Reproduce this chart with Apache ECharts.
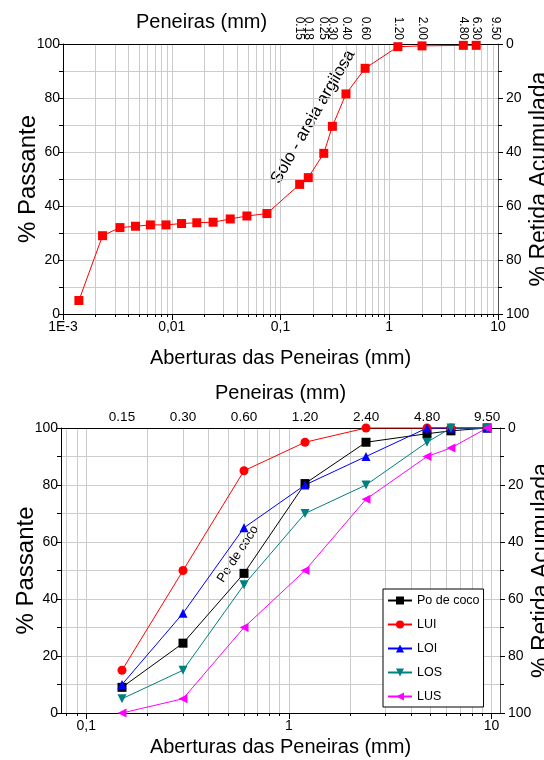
<!DOCTYPE html>
<html>
<head>
<meta charset="utf-8">
<script src="https://cdn.jsdelivr.net/npm/echarts@6/dist/echarts.min.js"></script>
<style>
html, body { margin: 0; padding: 0; background: #fff; }
#chart { width: 544px; height: 760px; }
</style>
</head>
<body>
<div id="chart"></div>
<script>
// grafico de cima: solo - areia argilosa
var soloAbertura = [0.0014, 0.00231, 0.00334, 0.00464, 0.00636, 0.00886, 0.0123, 0.0170, 0.0240, 0.0345, 0.0491, 0.075,
  0.15, 0.18, 0.25, 0.30, 0.40, 0.60, 1.20, 2.00, 4.80, 6.30];
var soloPassante = [5, 29, 32, 32.5, 33, 33, 33.5, 33.8, 34, 35.2, 36.3, 37.2,
  48, 50.5, 59.5, 69.5, 81.5, 91, 99, 99.3, 99.5, 99.5];
var peneirasSolo = [0.15, 0.18, 0.25, 0.30, 0.40, 0.60, 1.20, 2.00, 4.80, 6.30, 9.50];
var decadasSolo = [0.001, 0.01, 0.1, 1, 10];

// grafico de baixo: po de coco e limites
var peneiras = [0.15, 0.30, 0.60, 1.20, 2.40, 4.80, 6.30, 9.50];
var peneirasTopo = [0.15, 0.30, 0.60, 1.20, 2.40, 4.80, 9.50];
var decadasCoco = [0.1, 1, 10];
var poDeCoco = [9, 24.5, 49, 80.5, 95, 98, 99, 100];
var lui = [15, 50, 85, 95, 100, 100, 100, 100];
var loi = [10, 35, 65, 80, 90, 100, 100, 100];
var los = [5, 15, 45, 70, 80, 95, 100, 100];
var lus = [0, 5, 30, 50, 75, 90, 93, 100];

var multiplos = [2, 3, 4, 5, 6, 7, 8, 9];
var FONT = "'Liberation Sans', Arial, sans-serif";

function grade(decadas, min, max) {
  // linhas de grade do eixo log: 1..9 x cada decada
  var v = [];
  decadas.forEach(function (d) {
    [1].concat(multiplos).forEach(function (m) {
      var x = +(d * m / 10).toPrecision(3);
      if (x >= min && x <= max) v.push(x);
    });
  });
  decadas.forEach(function (d) { if (v.indexOf(d) < 0) v.push(d); });
  return v;
}

function rotulo(v) {
  if (v === 0.001) return '1E-3';
  return String(v).replace('.', ',');
}

function pares(xs, ys) {
  return xs.map(function (x, i) { return [x, ys[i]]; });
}

function eixosX(grid, min, max, decadas, topo, rotTopo, fonteTopo, nomeTopo, gapNome) {
  // rotulos vazios nas pontas: o echarts esconde o 1o/ultimo rotulo quando encosta no vizinho
  var topoValores = [min].concat(topo, [max]);
  return [
    { // eixo principal de baixo
      type: 'log', gridIndex: grid, min: min, max: max, position: 'bottom',
      axisLine: { show: true, onZero: false, lineStyle: { color: '#000', width: 1 } },
      axisTick: { show: true, customValues: decadas, length: 6, lineStyle: { color: '#000' } },
      axisLabel: {
        customValues: decadas, formatter: rotulo, color: '#000', fontSize: 14, fontFamily: FONT,
        margin: 6, hideOverlap: false, showMinLabel: true, showMaxLabel: true
      },
      splitLine: { show: false },
      name: 'Aberturas das Peneiras (mm)', nameLocation: 'middle', nameGap: gapNome, nameMoveOverlap: false,
      nameTextStyle: { color: '#000', fontSize: 20, fontFamily: FONT }
    },
    { // grade secundaria
      type: 'log', gridIndex: grid, min: min, max: max, position: 'bottom',
      axisLine: { show: false },
      axisTick: { show: true, customValues: grade(decadas, min, max), length: 3, lineStyle: { color: '#000' } },
      axisLabel: { show: false },
      splitLine: { show: true, lineStyle: { color: '#cccccc', width: 1 } }
    },
    { // peneiras no topo
      type: 'log', gridIndex: grid, min: min, max: max, position: 'top',
      axisLine: { show: true, onZero: false, lineStyle: { color: '#000', width: 1 } },
      axisTick: { show: false },
      axisLabel: {
        customValues: topoValores, rotate: rotTopo, margin: 4,
        hideOverlap: false, showMinLabel: false, showMaxLabel: false,
        formatter: function (v) { return topo.indexOf(v) >= 0 ? v.toFixed(2) : ''; },
        color: '#000', fontSize: fonteTopo, fontFamily: FONT
      },
      splitLine: { show: false },
      name: nomeTopo, nameLocation: 'middle', nameGap: 25, nameMoveOverlap: false,
      nameTextStyle: { color: '#000', fontSize: 20, fontFamily: FONT }
    }
  ];
}

function eixosY(grid) {
  return [
    {
      type: 'value', gridIndex: grid, min: 0, max: 100, interval: 20, position: 'left',
      axisLine: { show: true, lineStyle: { color: '#000' } },
      axisTick: { show: true, length: 5, lineStyle: { color: '#000' } },
      minorTick: { show: true, splitNumber: 2, length: 4, lineStyle: { color: '#000' } },
      axisLabel: { color: '#000', fontSize: 14, fontFamily: FONT, margin: 3 },
      splitLine: { show: true, lineStyle: { color: '#cccccc' } },
      minorSplitLine: { show: true, lineStyle: { color: '#cccccc' } },
      name: '% Passante', nameLocation: 'middle', nameGap: 23, nameRotate: 90, nameMoveOverlap: false,
      nameTextStyle: { color: '#000', fontSize: 24, fontFamily: FONT }
    },
    {
      type: 'value', gridIndex: grid, min: 0, max: 100, interval: 20, position: 'right', inverse: true,
      axisLine: { show: true, lineStyle: { color: '#555' } },
      axisTick: { show: true, length: 5, lineStyle: { color: '#000' } },
      minorTick: { show: true, splitNumber: 2, length: 4, lineStyle: { color: '#000' } },
      axisLabel: { color: '#000', fontSize: 14, fontFamily: FONT, margin: 8 },
      splitLine: { show: false },
      name: '% Retida Acumulada', nameLocation: 'middle', nameGap: 30, nameRotate: 90, nameMoveOverlap: false,
      nameTextStyle: { color: '#000', fontSize: 23, fontFamily: FONT }
    }
  ];
}

function serie(nome, ys, cor, simbolo, rot) {
  return {
    name: nome, type: 'line', xAxisIndex: 3, yAxisIndex: 2,
    data: pares(peneiras, ys), symbol: simbolo, symbolSize: 9, symbolRotate: rot || 0,
    itemStyle: { color: cor }, lineStyle: { color: cor, width: 1 }, clip: false, z: 3
  };
}

var myChart = echarts.init(document.getElementById('chart'), null, { renderer: 'canvas' });
myChart.setOption({
  animation: false,
  backgroundColor: '#fff',
  textStyle: { fontFamily: FONT },
  title: [{
    text: 'Peneiras (mm)', left: 136, top: 12, padding: 0,
    textStyle: { color: '#000', fontSize: 20, fontWeight: 'normal', fontFamily: FONT }
  }],
  grid: [
    { left: 63, top: 44, width: 435, height: 270, containLabel: false, outerBoundsMode: 'none' },
    { left: 61, top: 428, width: 439, height: 285, containLabel: false, outerBoundsMode: 'none' }
  ],
  xAxis: eixosX(0, 0.001, 10, decadasSolo, peneirasSolo, 90, 12, '', 34)
    .concat(eixosX(1, 0.075, 11, decadasCoco, peneirasTopo, 0, 13.5, 'Peneiras (mm)', 24)),
  yAxis: eixosY(0).concat(eixosY(1)),
  legend: {
    orient: 'vertical', left: 383, top: 589,
    data: ['Po de coco', 'LUI', 'LOI', 'LOS', 'LUS'],
    itemWidth: 24, itemHeight: 10, itemGap: 11,
    padding: [5, 4, 4, 4],
    borderColor: '#000', borderWidth: 1, backgroundColor: '#fff', borderRadius: 0,
    textStyle: { color: '#000', fontSize: 12.5, fontFamily: FONT }
  },
  graphic: [
    {
      type: 'text', x: 313, y: 117, rotation: 60 * Math.PI / 180,
      style: { text: 'Solo - areia argilosa', font: '17px ' + FONT, fill: '#000', align: 'center', verticalAlign: 'middle' }
    },
    {
      type: 'text', x: 238, y: 554, rotation: 57 * Math.PI / 180,
      style: { text: 'Po de coco', font: '13px ' + FONT, fill: '#000', align: 'center', verticalAlign: 'middle' }
    }
  ],
  series: [
    {
      name: 'Solo', type: 'line', xAxisIndex: 0, yAxisIndex: 0,
      data: pares(soloAbertura, soloPassante),
      symbol: 'rect', symbolSize: 9,
      itemStyle: { color: '#ff0000' }, lineStyle: { color: '#ff0000', width: 1 }, clip: false
    },
    serie('Po de coco', poDeCoco, '#000000', 'rect'),
    serie('LUI', lui, '#ff0000', 'circle'),
    serie('LOI', loi, '#0000ff', 'triangle'),
    serie('LOS', los, '#008080', 'triangle', 180),
    serie('LUS', lus, '#ff00ff', 'triangle', 90)
  ]
});
</script>
</body>
</html>
